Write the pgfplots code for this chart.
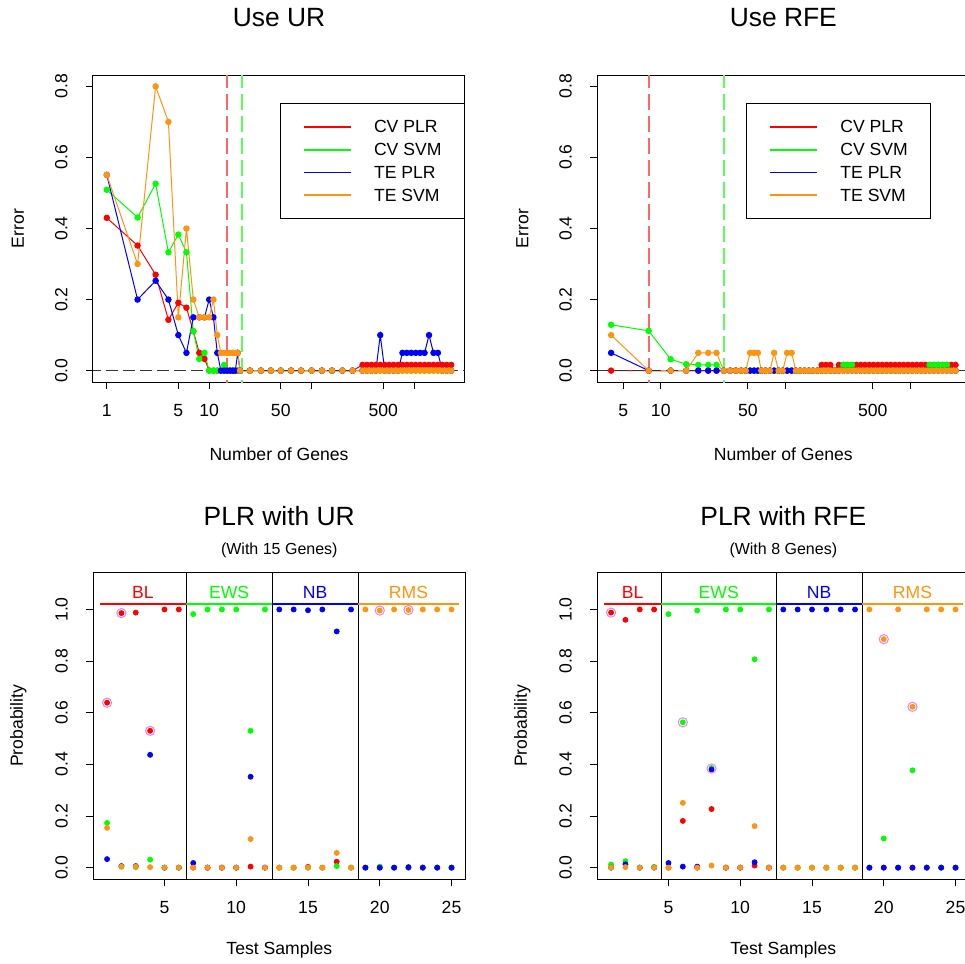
\documentclass[border=0pt]{standalone}
\usepackage{fontspec}
\setmainfont{Liberation Sans}
\usepackage{pgfplots}
\usepackage{pgfplotstable}
\pgfplotsset{compat=1.18}

\definecolor{cRed}{HTML}{FF0000}
\definecolor{cGreen}{HTML}{00FF00}
\definecolor{cBlue}{HTML}{0000FF}
\definecolor{cOrange}{HTML}{FF9410}
\definecolor{cViolet}{HTML}{EE82EE}

\newcommand\rfont{\fontsize{8.8pt}{10pt}\selectfont}
\newcommand\tfont{\fontsize{13.2pt}{15pt}\selectfont}
\newcommand\sfont{\fontsize{8pt}{9.6pt}\selectfont}

% error curves, selection by univariate ranking
\pgfplotstableread{
n cvp cvs tep tes
1 0.430 0.509 0.551 0.551
2 0.352 0.431 0.200 0.300
3 0.270 0.526 0.253 0.800
4 0.143 0.333 0.200 0.700
5 0.191 0.383 0.100 0.150
6 0.177 0.333 0.050 0.400
7 0.111 0.111 0.150 0.200
8 0.050 0.033 0.150 0.150
9 0.033 0.050 0.150 0.150
10 0 0 0.200 0.150
11 0 0 0.150 0.200
12 0 0 0.050 0.100
13 0 0 0 0.050
14 0 0.016 0 0.050
15 0 0 0 0.050
16 0 0 0 0.050
17 0 0 0 0.050
18 0 0 0 0.050
19 0 0 0.050 0.050
20 0 0 0 0
25 0 0 0 0
32 0 0 0 0
40 0 0 0 0
50 0 0 0 0
63 0 0 0 0
79 0 0 0 0
100 0 0 0 0
126 0 0 0 0
158 0 0 0 0
200 0 0 0 0
251 0 0 0 0
314 0.016 0 0 0
347 0.016 0 0 0
384 0.016 0 0 0
424 0.016 0 0 0
468 0.016 0 0.100 0
518 0.016 0 0 0
571 0.016 0 0 0
631 0.016 0 0 0
698 0.016 0 0 0
771 0.016 0 0.050 0
851 0.016 0 0.050 0
940 0.016 0 0.050 0
1040 0.016 0 0.050 0
1148 0.016 0 0.050 0
1268 0.016 0 0.050 0
1401 0.016 0 0.100 0
1548 0.016 0 0.050 0
1710 0.016 0 0.050 0
1889 0.016 0 0 0
2088 0.016 0 0 0
2308 0.016 0 0 0
}\tabUR

% error curves, selection by RFE
\pgfplotstableread{
n cvp cvs tep tes
4 0 0.129 0.050 0.100
8 0 0.112 0 0
12 0 0.032 0 0
16 0 0.018 0 0
20 0 0.016 0 0.050
24 0 0.016 0 0.050
28 0 0.016 0 0.050
32 0 0 0 0
36 0 0 0 0
40 0 0 0 0
44 0 0 0 0
48 0 0 0 0
52 0 0 0 0.050
56 0 0 0 0.050
60 0 0 0 0.050
64 0 0 0 0
69 0 0 0 0
75 0 0 0 0
81 0 0 0 0.050
88 0 0 0 0
95 0 0 0 0
103 0 0 0 0.050
112 0 0 0 0.050
121 0 0 0 0
131 0 0 0 0
142 0 0 0 0
154 0 0 0 0
166 0 0 0 0
180 0 0 0 0
195 0.016 0 0 0
211 0.016 0 0 0
229 0.016 0 0 0
248 0 0 0 0
268 0.016 0 0 0
291 0.016 0.016 0 0
315 0.016 0.016 0 0
341 0.016 0.016 0 0
369 0.016 0 0 0
400 0.016 0 0 0
433 0.016 0 0 0
469 0.016 0 0 0
508 0.016 0 0 0
550 0.016 0 0 0
595 0.016 0 0 0
645 0.016 0 0 0
698 0.016 0 0 0
756 0.016 0 0 0
819 0.016 0 0 0
887 0.016 0 0 0
960 0.016 0 0 0
1040 0.016 0 0 0
1126 0.016 0 0 0
1220 0.016 0 0 0
1321 0.016 0 0 0
1430 0.016 0.016 0 0
1549 0.016 0.016 0 0
1677 0.016 0.016 0 0
1816 0.016 0.016 0 0
1967 0.016 0.016 0 0
2130 0.016 0 0 0
2308 0.016 0 0 0
}\tabRFE

% class probabilities of the test samples
\pgfplotstableread{
s bl ews nb rms
1 0.639 0.173 0.033 0.154
2 0.986 0.004 0.006 0.004
3 0.988 0.002 0.006 0.004
4 0.530 0.031 0.437 0.002
5 1 0 0 0
6 1 0 0 0
7 0 0.982 0.018 0
8 0 1 0 0
9 0 1 0 0
10 0 1 0 0
11 0.004 0.530 0.352 0.111
12 0 1 0 0
13 0 0 1 0
14 0 0 1 0
15 0.003 0 0.997 0
16 0 0 1 0
17 0.023 0.006 0.915 0.057
18 0 0 1 0
19 0 0 0 1
20 0 0.004 0 0.996
21 0 0 0 1
22 0 0 0.002 0.998
23 0 0 0 1
24 0 0 0 1
25 0 0 0 1
}\probUR

\pgfplotstableread{
s bl ews nb rms
1 0.988 0.012 0 0
2 0.960 0.025 0.013 0.002
3 1 0 0 0
4 1 0.003 0 0
5 0 0.982 0.018 0
6 0.181 0.563 0.004 0.251
7 0 0.996 0.004 0
8 0.227 0.386 0.380 0.008
9 0 1 0 0
10 0 1 0 0
11 0.008 0.807 0.021 0.161
12 0 1 0 0
13 0 0 1 0
14 0 0 1 0
15 0 0 1 0
16 0 0 1 0
17 0 0 1 0
18 0 0 1 0
19 0 0 0 1
20 0 0.113 0 0.885
21 0 0 0 1
22 0 0.377 0 0.623
23 0 0 0 1
24 0 0 0 1
25 0 0 0 1
}\probRFE

\pgfplotstableread{
s p
1 0.639
2 0.986
4 0.530
20 0.996
22 0.998
}\circUR

\pgfplotstableread{
s p
1 0.988
6 0.563
8 0.384
20 0.885
22 0.623
}\circRFE

\pgfplotsset{
  rbase/.style={
    scale only axis, width=186pt, anchor=south west,
    axis line style={line width=0.5pt},
    tick style={black, line width=0.5pt},
    tick align=outside, major tick length=3.5pt,
    xtick pos=left, ytick pos=left,
    ticklabel style={font=\rfont},
    yticklabel style={rotate=90, anchor=south},
    xticklabel shift=4pt, yticklabel shift=5.75pt,
    label style={font=\rfont},
    title style={font=\tfont, anchor=center, yshift=0pt},
  },
  errtop/.style={
    rbase, height=153.5pt,
    ymin=-0.032, ymax=0.832,
    ytick={0,0.2,0.4,0.6,0.8}, yticklabels={0.0,0.2,0.4,0.6,0.8},
    title style={at={(axis description cs:0.5,1.147)}},
    xlabel={Number of Genes}, ylabel={Error},
    xlabel style={at={(axis description cs:0.5,-0.2345)}, anchor=center},
    ylabel style={at={(axis description cs:-0.2016,0.5)}, anchor=center},
    legend style={draw=black, line width=0.5pt, fill=white,
      inner xsep=11.5pt, inner ysep=5.8pt, column sep=11.3pt, row sep=0pt,
      cells={anchor=west},
      nodes={inner sep=0pt, minimum height=11.4pt, text depth=0pt, font=\rfont}},
  },
  probbot/.style={
    rbase, height=153.35pt, clip mode=individual,
    xmin=0.04, xmax=25.96, ymin=-0.044, ymax=1.144,
    xtick={5,10,15,20,25}, xticklabels={5,10,15,20,25},
    ytick={0,0.2,0.4,0.6,0.8,1}, yticklabels={0.0,0.2,0.4,0.6,0.8,1.0},
    title style={at={(axis description cs:0.5,1.145)}},
    xlabel={Test Samples}, ylabel={Probability},
    xlabel style={at={(axis description cs:0.5,-0.2315)}, anchor=center},
    ylabel style={at={(axis description cs:-0.2016,0.5)}, anchor=center},
  },
  zeroline/.style={forget plot, black!80, line width=0.6pt, dash pattern=on 6pt off 2.5pt},
}

\begin{document}
\begin{tikzpicture}
\useasboundingbox (0,0) rectangle (482.5pt,-482pt);
\clip (0,0) rectangle (482.5pt,-482pt);

% top left
\begin{axis}[errtop, at={(46.5pt,-191pt)},
  xmode=log, xminorticks=false,
  xmin=0.734, xmax=3145,
  xtick={1,5,10,50,100,500,1000}, xticklabels={1,5,10,50,,500,},
  title={Use UR},
  legend image code/.code={\draw[#1, mark=none, line width=0.9pt] (0pt,0pt) -- (23.2pt,0pt);},
  legend style={at={(axis description cs:1,0.9078)}, anchor=north east}]
\addplot[cRed, line width=0.5pt, mark=*, mark size=1.35pt] table[x=n, y=cvp] {\tabUR};
\addplot[cGreen, line width=0.5pt, mark=*, mark size=1.35pt] table[x=n, y=cvs] {\tabUR};
\addplot[cBlue, line width=0.5pt, mark=*, mark size=1.35pt] table[x=n, y=tep] {\tabUR};
\addplot[cOrange, line width=0.5pt, mark=*, mark size=1.35pt] table[x=n, y=tes] {\tabUR};
\addplot[zeroline] coordinates {(0.1,0) (10000,0)};
\addplot[forget plot, cRed!60, line width=1pt, dash pattern=on 8pt off 3pt] coordinates {(15,-1) (15,1)};
\addplot[forget plot, cGreen!65, line width=1pt, dash pattern=on 8pt off 3pt] coordinates {(21,-1) (21,1)};
\legend{CV PLR, CV SVM, TE PLR, TE SVM}
\end{axis}

% top right
\begin{axis}[errtop, at={(298.65pt,-191pt)},
  xmode=log, xminorticks=false,
  xmin=3.10, xmax=2974,
  xtick={5,10,50,100,500,1000}, xticklabels={5,10,50,,500,},
  title={Use RFE},
  legend image code/.code={\draw[#1, mark=none, line width=0.9pt] (0pt,0pt) -- (23.2pt,0pt);},
  legend style={at={(axis description cs:0.898,0.9078)}, anchor=north east}]
\addplot[cRed, line width=0.5pt, mark=*, mark size=1.35pt] table[x=n, y=cvp] {\tabRFE};
\addplot[cGreen, line width=0.5pt, mark=*, mark size=1.35pt] table[x=n, y=cvs] {\tabRFE};
\addplot[cBlue, line width=0.5pt, mark=*, mark size=1.35pt] table[x=n, y=tep] {\tabRFE};
\addplot[cOrange, line width=0.5pt, mark=*, mark size=1.35pt] table[x=n, y=tes] {\tabRFE};
\addplot[zeroline] coordinates {(0.1,0) (10000,0)};
\addplot[forget plot, cRed!60, line width=1pt, dash pattern=on 8pt off 3pt] coordinates {(8,-1) (8,1)};
\addplot[forget plot, cGreen!65, line width=1pt, dash pattern=on 8pt off 3pt] coordinates {(32,-1) (32,1)};
\legend{CV PLR, CV SVM, TE PLR, TE SVM}
\end{axis}

% bottom left
\begin{axis}[probbot, at={(46.65pt,-439.5pt)}, title={PLR with UR}]
\addplot[cRed, only marks, mark=*, mark size=1.25pt] table[x=s, y=bl] {\probUR};
\addplot[cGreen, only marks, mark=*, mark size=1.25pt] table[x=s, y=ews] {\probUR};
\addplot[cBlue, only marks, mark=*, mark size=1.25pt] table[x=s, y=nb] {\probUR};
\addplot[cOrange, only marks, mark=*, mark size=1.25pt] table[x=s, y=rms] {\probUR};
\addplot[only marks, mark=o, mark size=2.3pt, cViolet, line width=0.5pt] table[x=s, y=p] {\circUR};
\addplot[black, line width=0.5pt] coordinates {(6.5,-0.044) (6.5,1.144)};
\addplot[black, line width=0.5pt] coordinates {(12.5,-0.044) (12.5,1.144)};
\addplot[black, line width=0.5pt] coordinates {(18.5,-0.044) (18.5,1.144)};
\addplot[cRed, line width=0.8pt] coordinates {(0.5,1.022) (6.5,1.022)};
\addplot[cGreen, line width=0.8pt] coordinates {(6.5,1.022) (12.5,1.022)};
\addplot[cBlue, line width=0.8pt] coordinates {(12.5,1.022) (18.5,1.022)};
\addplot[cOrange, line width=0.8pt] coordinates {(18.5,1.022) (25.5,1.022)};
\node[cRed, font=\rfont] at (axis cs:3.5,1.067) {BL};
\node[cGreen, font=\rfont] at (axis cs:9.5,1.067) {EWS};
\node[cBlue, font=\rfont] at (axis cs:15.5,1.067) {NB};
\node[cOrange, font=\rfont] at (axis cs:22,1.067) {RMS};
\node[font=\sfont] at (axis description cs:0.5,1.073) {(With 15 Genes)};
\end{axis}

% bottom right
\begin{axis}[probbot, at={(298.65pt,-439.5pt)}, title={PLR with RFE}]
\addplot[cRed, only marks, mark=*, mark size=1.25pt] table[x=s, y=bl] {\probRFE};
\addplot[cGreen, only marks, mark=*, mark size=1.25pt] table[x=s, y=ews] {\probRFE};
\addplot[cBlue, only marks, mark=*, mark size=1.25pt] table[x=s, y=nb] {\probRFE};
\addplot[cOrange, only marks, mark=*, mark size=1.25pt] table[x=s, y=rms] {\probRFE};
\addplot[only marks, mark=o, mark size=2.3pt, cViolet, line width=0.5pt] table[x=s, y=p] {\circRFE};
\addplot[black, line width=0.5pt] coordinates {(4.5,-0.044) (4.5,1.144)};
\addplot[black, line width=0.5pt] coordinates {(12.5,-0.044) (12.5,1.144)};
\addplot[black, line width=0.5pt] coordinates {(18.5,-0.044) (18.5,1.144)};
\addplot[cRed, line width=0.8pt] coordinates {(0.5,1.022) (4.5,1.022)};
\addplot[cGreen, line width=0.8pt] coordinates {(4.5,1.022) (12.5,1.022)};
\addplot[cBlue, line width=0.8pt] coordinates {(12.5,1.022) (18.5,1.022)};
\addplot[cOrange, line width=0.8pt] coordinates {(18.5,1.022) (25.5,1.022)};
\node[cRed, font=\rfont] at (axis cs:2.5,1.067) {BL};
\node[cGreen, font=\rfont] at (axis cs:8.5,1.067) {EWS};
\node[cBlue, font=\rfont] at (axis cs:15.5,1.067) {NB};
\node[cOrange, font=\rfont] at (axis cs:22,1.067) {RMS};
\node[font=\sfont] at (axis description cs:0.5,1.073) {(With 8 Genes)};
\end{axis}
\end{tikzpicture}
\end{document}
